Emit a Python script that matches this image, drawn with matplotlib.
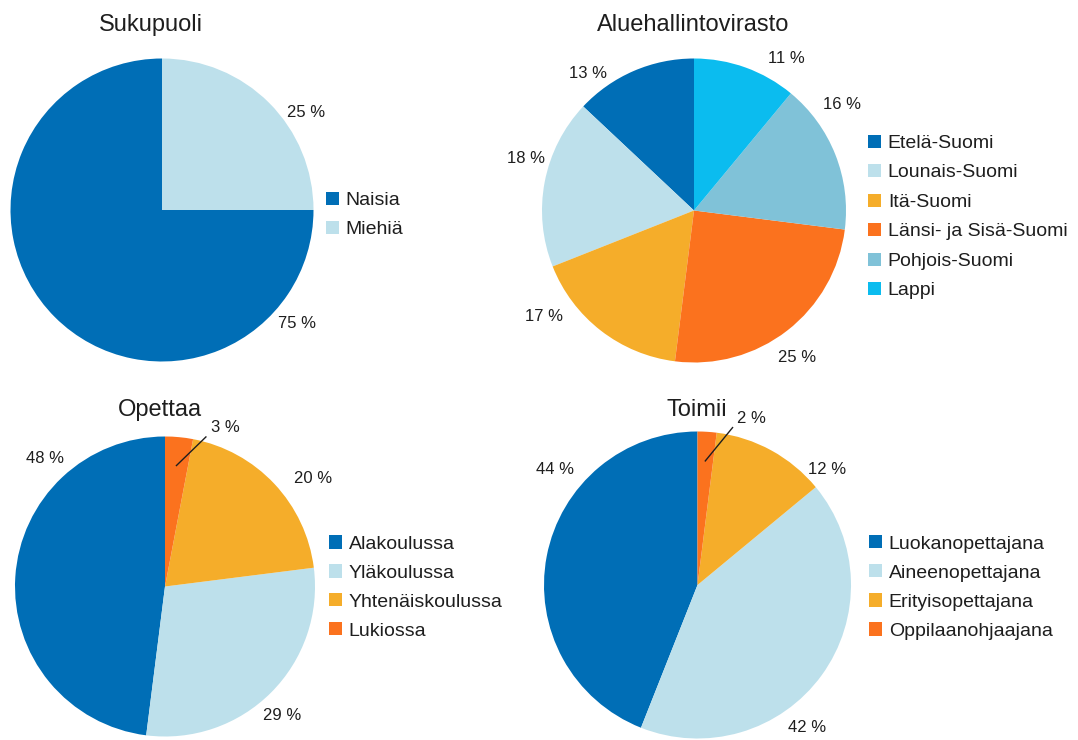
import matplotlib
matplotlib.use("Agg")
import matplotlib.pyplot as plt
import numpy as np

plt.rcParams['font.family'] = ['Liberation Sans', 'DejaVu Sans']

# ---------------- data ----------------
titles = ["Sukupuoli", "Aluehallintovirasto", "Opettaa", "Toimii"]

sukupuoli_labels = ["Naisia", "Miehiä"]
sukupuoli_values = [75, 25]

avi_labels = ["Etelä-Suomi", "Lounais-Suomi", "Itä-Suomi",
              "Länsi- ja Sisä-Suomi", "Pohjois-Suomi", "Lappi"]
avi_values = [13, 18, 17, 25, 16, 11]

opettaa_labels = ["Alakoulussa", "Yläkoulussa", "Yhtenäiskoulussa", "Lukiossa"]
opettaa_values = [48, 29, 20, 3]

toimii_labels = ["Luokanopettajana", "Aineenopettajana",
                 "Erityisopettajana", "Oppilaanohjaajana"]
toimii_values = [44, 42, 12, 2]

# ---------------- style / layout ----------------
palette = ["#006eb6", "#bde0eb", "#f5ad2a", "#fb721e", "#80c2d8", "#0bbcef"]
text_color = "#1e1e1e"

W, H = 1078, 740
fig = plt.figure(figsize=(W / 100, H / 100), dpi=100)

# pie centre (px), radius (px), title centre (px), legend left/centre (px)
layout = [
    dict(c=(162, 210), r=151.5, title=(151, 25), leg=(326, 215), ls=0.62,
         lab=[(-39.9, 1.165), (34.2, 1.15)], leader=[]),
    dict(c=(694, 210.5), r=152, title=(693, 25), leg=(868, 217), ls=0.62,
         lab=[(127.9, 1.14), (162.7, 1.16), (215.1, 1.21), (-54.9, 1.18),
              (35.6, 1.20), (58.6, 1.17)], leader=[]),
    dict(c=(165, 586.5), r=150, title=(160, 410), leg=(329, 587.5), ls=0.59,
         lab=[(133.3, 1.17), (-47.7, 1.16), (36.0, 1.22), (69.3, 1.13)],
         leader=[3]),
    dict(c=(697.5, 585), r=153.5, title=(697, 410), leg=(869, 587.5), ls=0.6,
         lab=[(140.8, 1.195), (-52.6, 1.17), (41.9, 1.13), (72.0, 1.14)],
         leader=[3]),
]

datasets = [
    (sukupuoli_labels, sukupuoli_values),
    (avi_labels, avi_values),
    (opettaa_labels, opettaa_values),
    (toimii_labels, toimii_values),
]

for title, (names, vals), L in zip(titles, datasets, layout):
    cx, cy = L["c"]
    r = L["r"]
    ax = fig.add_axes([(cx - r) / W, 1 - (cy + r) / H, 2 * r / W, 2 * r / H])
    wedges, _ = ax.pie(vals, colors=palette[:len(vals)], startangle=90,
                       counterclock=True, radius=1,
                       wedgeprops=dict(linewidth=0))
    ax.set_xlim(-1, 1)
    ax.set_ylim(-1, 1)
    ax.set_aspect('auto')
    ax.axis('off')

    total = float(sum(vals))
    for i, (w, v) in enumerate(zip(wedges, vals)):
        ang, dist = L["lab"][i]
        a = np.deg2rad(ang)
        tx, ty = dist * np.cos(a), dist * np.sin(a)
        ax.text(tx, ty, f"{100 * v / total:.0f} %", ha='center', va='center',
                fontsize=12, color=text_color, clip_on=False)
        if i in L["leader"]:
            mid = np.deg2rad((w.theta1 + w.theta2) / 2)
            x0, y0 = 0.81 * np.cos(mid), 0.81 * np.sin(mid)
            x1, y1 = tx - 19 / r, ty - 9 / r
            ax.plot([x0, x1], [y0, y1], color=text_color, lw=1,
                    clip_on=False)

    fig.text(L["title"][0] / W, 1 - L["title"][1] / H, title,
             ha='center', va='center', fontsize=17, color=text_color)

    lx, ly = L["leg"]
    leg = ax.legend(wedges, names, loc='center left',
                    bbox_to_anchor=(lx / W, 1 - ly / H),
                    bbox_transform=fig.transFigure, frameon=False,
                    fontsize=14, handlelength=0.67, handleheight=0.67,
                    handletextpad=0.35, labelspacing=L["ls"], borderpad=0,
                    borderaxespad=0)
    for t in leg.get_texts():
        t.set_color(text_color)

fig.savefig("out.png", dpi=100)
